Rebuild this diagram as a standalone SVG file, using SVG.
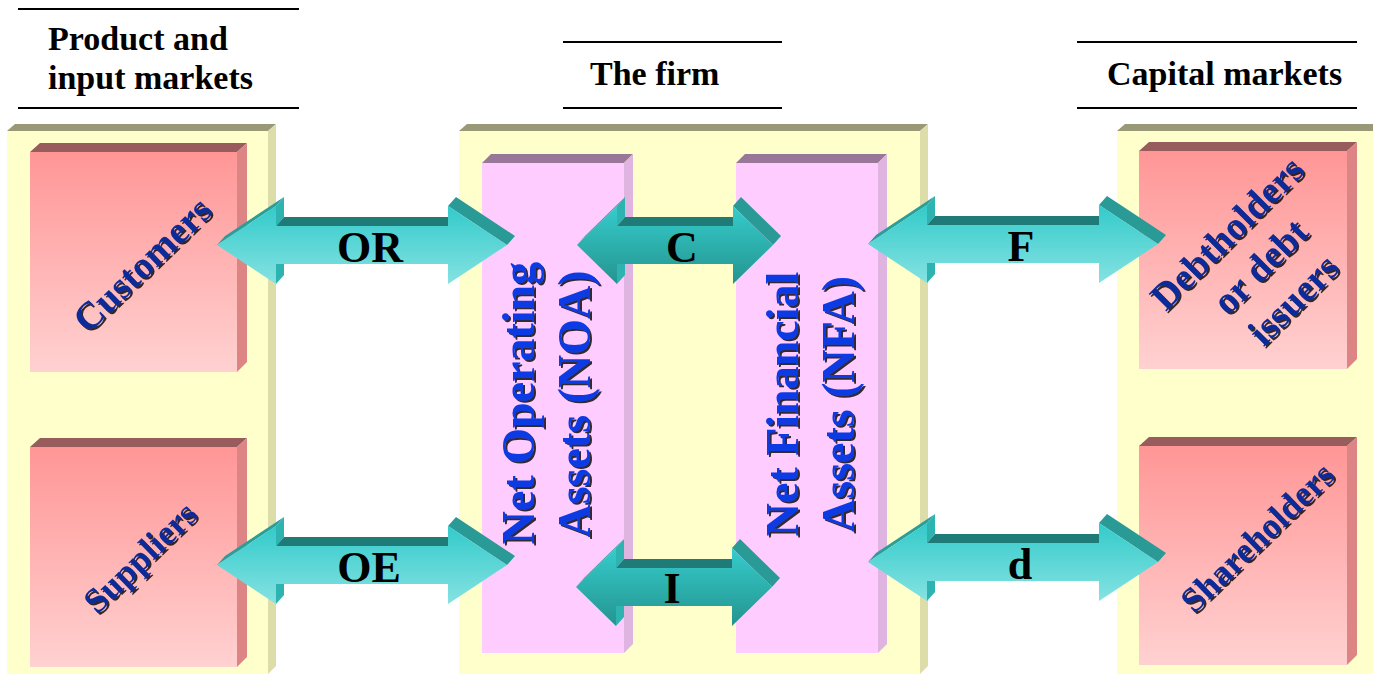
<svg xmlns="http://www.w3.org/2000/svg" width="1373" height="674" viewBox="0 0 1373 674">
<style>
.hdr{font-family:"Liberation Serif","Times New Roman",serif;font-weight:bold;font-size:34px;fill:#000}
.rule{stroke:#000;stroke-width:2}
.pfront{fill:#FFFFCC}
.ptop{fill:#999977}
.pside{fill:#DDDDAA}
.bfront{fill:url(#pinkGrad)}
.btop{fill:#995C5C}
.bside{fill:#DD8585}
.cfront{fill:#FFCCFF}
.ctop{fill:#997799}
.cside{fill:#E0B4E0}
.diag{font-family:"Liberation Serif","Times New Roman",serif;font-weight:bold;font-size:38px;fill:#0D2C99;text-anchor:middle}
.diag.sm{font-size:35px}
.vert{font-family:"Liberation Serif","Times New Roman",serif;font-weight:bold;font-size:46px;fill:#0B3BE3;text-anchor:middle}
.lbl{font-family:"Liberation Serif","Times New Roman",serif;font-weight:bold;font-size:44px;fill:#000;text-anchor:middle}
.ext1{fill:#2A9E9B}
.ext2{fill:#2DB3B0}
.ext3{fill:#1F7B78}
.ext4{fill:#2A9A97}
</style>
<defs>
<linearGradient id="pinkGrad" x1="0" y1="0" x2="0" y2="1">
<stop offset="0" stop-color="#FF9696"/>
<stop offset="1" stop-color="#FFD1D1"/>
</linearGradient>
<linearGradient id="bigGrad" x1="0" y1="0" x2="0" y2="1">
<stop offset="0" stop-color="#33CACA"/>
<stop offset="1" stop-color="#86E2E2"/>
</linearGradient>
<linearGradient id="smallGrad" x1="0" y1="0" x2="0" y2="1">
<stop offset="0" stop-color="#35CCCC"/>
<stop offset="1" stop-color="#24948F"/>
</linearGradient>
<filter id="sh" x="-10%" y="-10%" width="130%" height="130%">
<feDropShadow dx="2" dy="2" stdDeviation="0.4" flood-color="#000" flood-opacity="0.8"/>
</filter>
<g id="bigArrow">
<polygon class="ext1" points="-145,0 -86,-39 -78,-48 -137,-9"/>
<polygon class="ext2" points="-86,-39 -86,-19 -78,-28 -78,-48"/>
<polygon class="ext3" points="-86,-19 86,-19 94,-28 -78,-28"/>
<polygon class="ext4" points="86,-39 145,0 153,-9 94,-48"/>
<polygon class="ext2" points="-86,19 -86,39 -78,30 -78,10"/>
<polygon fill="url(#bigGrad)" points="-145,0 -86,-39 -86,-19 86,-19 86,-39 145,0 86,39 86,19 -86,19 -86,39"/>
</g>
<g id="smallArrow">
<polygon class="ext1" points="-98,0 -58,-39 -50,-48 -90,-9"/>
<polygon class="ext2" points="-58,-39 -58,-19 -50,-28 -50,-48"/>
<polygon class="ext3" points="-58,-19 58,-19 66,-28 -50,-28"/>
<polygon class="ext4" points="58,-39 98,0 106,-9 66,-48"/>
<polygon class="ext2" points="-58,19 -58,39 -50,30 -50,10"/>
<polygon fill="url(#smallGrad)" points="-98,0 -58,-39 -58,-19 58,-19 58,-39 98,0 58,39 58,19 -58,19 -58,39"/>
</g>
</defs>
<rect width="1373" height="674" fill="#FFFFFF"/>

<g id="header-product">
<line class="rule" x1="18" y1="9" x2="299" y2="9"/>
<text class="hdr" x="48" y="50">Product and</text>
<text class="hdr" x="48" y="89">input markets</text>
<line class="rule" x1="18" y1="108" x2="299" y2="108"/>
</g>
<g id="header-firm">
<line class="rule" x1="563" y1="42" x2="782" y2="42"/>
<text class="hdr" x="590" y="85">The firm</text>
<line class="rule" x1="563" y1="108" x2="782" y2="108"/>
</g>
<g id="header-capital">
<line class="rule" x1="1077" y1="42" x2="1357" y2="42"/>
<text class="hdr" x="1107" y="85">Capital markets</text>
<line class="rule" x1="1077" y1="108" x2="1357" y2="108"/>
</g>

<g id="panel-product">
<rect class="pfront" x="7" y="131" width="261" height="543"/>
<polygon class="ptop" points="7,131 15,124 276,124 268,131"/>
<polygon class="pside" points="268,131 276,124 276,666 268,674"/>
</g>
<g id="panel-firm">
<rect class="pfront" x="459" y="131" width="461" height="543"/>
<polygon class="ptop" points="459,131 467,124 928,124 920,131"/>
<polygon class="pside" points="920,131 928,124 928,666 920,674"/>
</g>
<g id="panel-capital">
<rect class="pfront" x="1117" y="131" width="256" height="543"/>
<polygon class="ptop" points="1117,131 1125,124 1373,124 1373,131"/>
</g>

<g id="customers">
<rect class="bfront" x="30" y="152" width="207" height="220"/>
<polygon class="btop" points="30,152 40,143 247,143 237,152"/>
<polygon class="bside" points="237,152 247,143 247,362 237,372"/>
<g filter="url(#sh)"><g transform="translate(142,264) rotate(-44)"><text class="diag" x="0" y="13">Customers</text></g></g>
</g>
<g id="suppliers">
<rect class="bfront" x="30" y="447" width="207" height="220"/>
<polygon class="btop" points="30,447 40,438 247,438 237,447"/>
<polygon class="bside" points="237,447 247,438 247,657 237,667"/>
<g filter="url(#sh)"><g transform="translate(140,557) rotate(-44)"><text class="diag sm" x="0" y="12">Suppliers</text></g></g>
</g>
<g id="debtholders">
<rect class="bfront" x="1139" y="151" width="208" height="218"/>
<polygon class="btop" points="1139,151 1149,142 1357,142 1347,151"/>
<polygon class="bside" points="1347,151 1357,142 1357,359 1347,369"/>
<g filter="url(#sh)"><g transform="translate(1260,266) rotate(-45)">
<text class="diag" x="0" y="-34">Debtholders</text>
<text class="diag" x="0" y="13">or debt</text>
<text class="diag" x="0" y="60">issuers</text>
</g></g>
</g>
<g id="shareholders">
<rect class="bfront" x="1139" y="446" width="208" height="219"/>
<polygon class="btop" points="1139,446 1149,437 1357,437 1347,446"/>
<polygon class="bside" points="1347,446 1357,437 1357,655 1347,665"/>
<g filter="url(#sh)"><g transform="translate(1257,537) rotate(-44)"><text class="diag sm" x="0" y="12">Shareholders</text></g></g>
</g>

<g id="noa-column">
<rect class="cfront" x="482" y="163" width="142" height="490"/>
<polygon class="ctop" points="482,163 491,154 633,154 624,163"/>
<polygon class="cside" points="624,163 633,154 633,644 624,653"/>
</g>
<g id="nfa-column">
<rect class="cfront" x="736" y="163" width="142" height="490"/>
<polygon class="ctop" points="736,163 745,154 887,154 878,163"/>
<polygon class="cside" points="878,163 887,154 887,644 878,653"/>
</g>

<g id="connectors">
<g id="arrow-OR"><use href="#bigArrow" transform="translate(362,245)"/><text class="lbl" x="370" y="262">OR</text></g>
<g id="arrow-OE"><use href="#bigArrow" transform="translate(362,565)"/><text class="lbl" x="369" y="582">OE</text></g>
<g id="arrow-F"><use href="#bigArrow" transform="translate(1013,244)"/><text class="lbl" x="1021" y="261">F</text></g>
<g id="arrow-d"><use href="#bigArrow" transform="translate(1013,562)"/><text class="lbl" x="1020" y="579">d</text></g>
<g id="arrow-C"><use href="#smallArrow" transform="translate(675,245)"/><text class="lbl" x="682" y="262">C</text></g>
<g id="arrow-I"><use href="#smallArrow" transform="translate(674,587)"/><text class="lbl" x="672" y="603">I</text></g>
</g>

<g id="noa-label" filter="url(#sh)">
<g transform="translate(534,403) rotate(-90)"><text class="vert" x="0" y="0">Net Operating</text></g>
<g transform="translate(590,404) rotate(-90)"><text class="vert" x="0" y="0">Assets (NOA)</text></g>
</g>
<g id="nfa-label" filter="url(#sh)">
<g transform="translate(798,404) rotate(-90)"><text class="vert" x="0" y="0">Net Financial</text></g>
<g transform="translate(854,404) rotate(-90)"><text class="vert" x="0" y="0">Assets (NFA)</text></g>
</g>
</svg>
